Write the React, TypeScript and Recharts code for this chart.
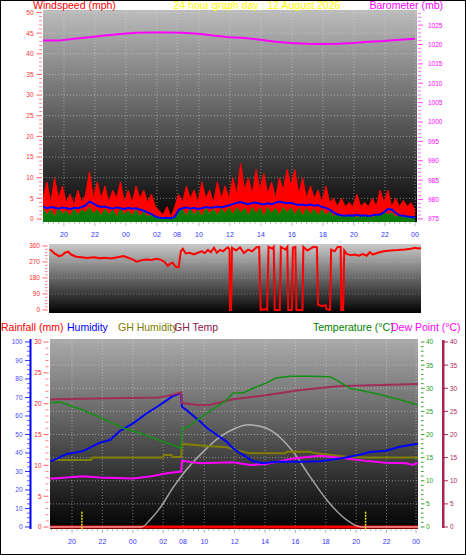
import React from "react";
import { ComposedChart, Line, Area, XAxis, YAxis, CartesianGrid, ReferenceLine } from "recharts";

const FONT = "'Liberation Sans', Arial, Helvetica, sans-serif";

// time axis: hours with the overnight outage squeezed, so the labels are not evenly spaced
const hourTicks = [1.35, 3.35, 5.35, 7.35, 8.65, 10.06, 12.06, 14.06, 16.06, 18.06, 20.06, 22.06, 24.0];
const hourLabels = ["20", "22", "00", "02", "08", "10", "12", "14", "16", "18", "20", "22", "00"];
const X_MAX = 24.13;

// windspeed (mph), one reading every quarter hour
const WIND_STEP = 0.25;
const gust = [
  5, 9, 4, 10, 5, 8, 4, 6, 3.5, 7, 4, 6, 11.5, 5, 9, 5, 8, 4, 7, 5, 9, 4, 7, 4, 8, 5, 7, 4, 6, 3, 2, 1, 3, 0.5, 3,
  6, 4, 8, 5, 7, 4, 9, 5, 7, 4, 9, 5, 8, 5, 10, 6, 13.5, 7, 10, 6, 12, 7, 11, 6, 9, 5, 10, 7, 12, 8, 12, 6, 10, 5,
  8, 5, 7, 4, 8, 4, 5, 3, 5, 3, 4, 3, 6, 3, 4, 3, 5, 3, 7, 4, 7, 3, 5, 3, 4.5, 3, 4, 2,
];
const avgSpeed = [
  3, 2.6, 2.9, 2.7, 2.5, 2.8, 2.6, 2.4, 2.7, 2.6, 2.9, 3.3, 4.2, 3.8, 3.2, 2.9, 3.0, 2.7, 2.5, 2.8, 2.6, 2.4, 2.7,
  2.5, 2.6, 2.3, 2.0, 1.6, 1.2, 0.6, 0.3, 0.2, 0.3, 0.2, 0.5, 2.2, 2.6, 2.8, 2.5, 2.7, 2.4, 2.6, 2.9, 2.7, 2.8, 3.0,
  2.8, 3.1, 3.3, 3.6, 3.9, 4.1, 3.8, 3.6, 3.9, 4.0, 3.7, 3.5, 3.8, 3.6, 3.9, 4.2, 4.0, 3.8, 3.9, 3.6, 3.4, 3.5, 3.3,
  3.5, 3.2, 3.4, 2.9, 2.7, 2.2, 1.6, 1.1, 0.9, 0.8, 0.9, 0.8, 1.0, 0.8, 0.9, 0.7, 0.9, 1.0, 1.1, 1.6, 2.4, 2.3, 1.5,
  0.9, 0.8, 0.6, 0.5, 0.4,
];
const windSpeed = [
  2.5, 1, 2.2, 0.5, 2.6, 1.2, 2.0, 0.6, 2.4, 1.0, 2.2, 1.5, 2.8, 1.2, 2.3, 0.8, 2.4, 1.0, 2.2, 0.5, 2.5, 1.1, 2.0,
  0.8, 2.2, 0.6, 1.8, 0.5, 1.0, 0.2, 0.1, 0, 0.2, 0, 0.3, 1.8, 2.3, 0.8, 2.5, 1.0, 2.2, 0.6, 2.6, 1.2, 2.4, 0.9, 2.5,
  1.3, 2.7, 1.0, 2.8, 1.4, 2.6, 0.8, 2.8, 1.2, 2.7, 0.6, 2.8, 1.3, 2.6, 0.9, 2.8, 1.5, 2.7, 1.0, 2.6, 0.7, 2.5, 1.1,
  2.4, 0.8, 2.3, 0.9, 1.8, 0.6, 1.2, 0.4, 1.0, 0.5, 0.9, 0.3, 1.0, 0.5, 0.8, 0.3, 1.1, 0.6, 1.8, 1.0, 1.5, 0.5, 0.8,
  0.3, 0.6, 0.2, 0.3,
];

// barometer (mb), hourly
const baro = [
  1021.0, 1021.0, 1021.5, 1021.9, 1022.3, 1022.7, 1023.0, 1023.1, 1023.1, 1023.0, 1022.8, 1022.3, 1021.9, 1021.7,
  1021.2, 1020.7, 1020.4, 1020.2, 1020.1, 1020.2, 1020.4, 1020.7, 1020.9, 1021.2, 1021.5,
];

// wind direction (degrees)
const dirHours = [
  0.07, 0.33, 0.65, 0.85, 1.04, 1.24, 1.44, 1.76, 2.09, 2.48, 2.94, 3.26, 3.65, 4.04, 4.44, 4.83, 5.09, 5.41, 5.68,
  6.0, 6.33, 6.65, 6.98, 7.24, 7.5, 7.7, 7.89, 8.02, 8.22, 8.41, 8.55, 8.68, 8.87, 9.13, 9.39, 9.65, 9.92, 10.11,
  10.31, 10.5, 10.7, 10.89, 11.09, 11.29, 11.48, 11.61, 11.71, 11.74, 11.81, 11.87, 12.13, 12.39, 12.65, 12.92,
  13.18, 13.44, 13.63, 13.73, 14.02, 14.15, 14.24, 14.48, 14.58, 14.64, 14.97, 15.04, 15.33, 15.46, 15.52, 15.75,
  15.82, 15.98, 16.05, 16.44, 16.5, 16.76, 16.96, 17.16, 17.38, 17.45, 17.74, 17.94, 18.0, 18.23, 18.3, 18.53,
  18.72, 18.92, 18.96, 19.08, 19.15, 19.31, 19.57, 19.83, 20.09, 20.35, 20.61, 20.81, 21.0, 21.33, 21.72, 22.18,
  22.64, 23.09, 23.48, 23.74, 23.94, 24.13,
];
const dirDeg = [
  341, 320, 303, 308, 322, 328, 312, 300, 297, 293, 296, 291, 294, 290, 297, 303, 295, 285, 272, 280, 284, 281,
  288, 283, 270, 248, 262, 266, 243, 240, 330, 345, 318, 322, 312, 322, 330, 320, 338, 325, 350, 322, 338, 330,
  345, 352, 340, 0, 0, 350, 335, 352, 320, 340, 330, 352, 355, 0, 5, 0, 355, 345, 355, 0, 0, 355, 340, 355, 0, 0,
  350, 355, 0, 0, 355, 335, 345, 355, 352, 30, 22, 28, 5, 0, 340, 330, 355, 355, 0, 0, 335, 315, 308, 312, 305,
  315, 305, 325, 312, 322, 330, 335, 337, 340, 345, 350, 346, 348,
];
const compass: Record<number, string> = { 360: "S", 270: "E", 180: "N", 90: "W", 0: "S" };

// lower panel
const humHours = [
  -0.1, 0.1, 1.02, 2.07, 3.19, 3.85, 4.51, 5.37, 6.29, 6.95, 7.6, 8.0, 8.53, 8.59, 8.92, 9.78, 10.24, 10.9, 11.55,
  11.95, 12.61, 13.27, 13.92, 14.78, 16.36, 17.68, 19.19, 20.31, 20.97, 22.02, 22.94, 24.0, 24.13,
];
const humidity = [
  36, 36, 39.5, 41, 45.6, 47, 52, 56, 61.6, 65, 68.6, 70.8, 72.4, 65, 63, 57, 53.5, 49.7, 46, 42.5, 39, 35.5, 34.5,
  35.3, 35.3, 35.5, 37.3, 39, 40.5, 41.2, 43.4, 44.9, 45,
];
const ghHumHours = [
  -0.1, 0.1, 2.6, 2.7, 7.3, 7.4, 7.9, 8.0, 8.53, 8.59, 10.24, 11.55, 11.95, 13.07, 15.4, 15.5, 17.0, 17.4, 19.4,
  20.7, 24.0, 24.13,
];
const ghHumidity = [
  36.2, 36.2, 36.2, 37.5, 37.5, 38.9, 38.9, 37.8, 37.8, 44.9, 43.8, 43.1, 42.0, 39.8, 39.8, 40.7, 40.7, 39.8, 38.0,
  37.5, 37.5, 37.5,
];
const tempHours = [
  -0.1, 0.1, 0.56, 2.07, 3.19, 4.71, 6.02, 7.14, 8.0, 8.53, 8.59, 8.92, 9.58, 10.24, 11.55, 11.95, 12.61, 13.27,
  14.12, 14.78, 15.7, 17.02, 18.33, 18.73, 19.65, 20.7, 21.82, 22.94, 24.0, 24.13,
];
const temperature = [
  26.9, 26.9, 27.0, 25.3, 23.7, 21.4, 20.1, 18.7, 17.7, 17.0, 21.3, 21.5, 23.1, 24.6, 27.5, 29.0, 29.0, 30.0, 31.1,
  32.2, 32.6, 32.6, 32.5, 31.8, 30.0, 29.3, 28.5, 27.5, 26.5, 26.4,
];
const ghTempHours = [
  -0.1, 0.1, 3.0, 5.0, 7.0, 7.6, 8.2, 8.53, 8.59, 9.6, 10.4, 11.55, 11.95, 14.12, 16.36, 18.54, 19.19, 21.82, 24.0,
  24.13,
];
const ghTemp = [
  27.6, 27.6, 27.8, 27.9, 28.0, 28.3, 28.8, 29.1, 26.8, 26.4, 26.4, 27.3, 27.6, 28.5, 29.6, 30.3, 30.5, 30.7, 30.9,
  30.9,
];
const dewHours = [
  -0.1, 0.1, 2.07, 3.19, 5.37, 6.48, 7.6, 8.53, 8.59, 9.78, 11.95, 13.07, 14.12, 15.9, 17.68, 19.0, 20.7, 22.02,
  23.34, 23.8, 24.0, 24.13,
];
const dewPoint = [
  10.5, 10.5, 11.0, 10.7, 10.5, 10.9, 11.6, 12.0, 14.3, 13.8, 14.0, 13.4, 13.6, 14.8, 15.4, 15.0, 14.3, 13.9, 13.8,
  13.4, 13.8, 13.8,
];
const solarHours = [
  -0.1, 5.94, 6.5, 7.14, 8.0, 8.59, 9.78, 11.09, 12.08, 12.94, 13.73, 14.38, 15.9, 17.02, 18.14, 19.45, 20.38, 24.13,
];
const solar = [0, 0, 1.6, 4.1, 8.5, 11.2, 15.6, 19.5, 21.3, 22.1, 21.8, 21.0, 16.3, 10.9, 5.8, 1.5, 0, 0];
const rainHours = [-0.1, 24.13];
const rainfall = [0, 0];
const sunMarks = [2.0, 20.68];

const range = (from: number, to: number, step: number) =>
  Array.from({ length: Math.round((to - from) / step) + 1 }, (_, i) => from + i * step);
const pts = (ts: number[], vs: number[]) => ts.map((t, i) => ({ t, v: vs[i] }));

const minorHours = range(1.35 - 4 / 3, 1.35 + 68 / 3, 1 / 3).filter(
  (v) => v >= 0 && v <= X_MAX && hourTicks.every((h) => Math.abs(h - v) > 0.12)
);
const xTickValues = [...hourTicks, ...minorHours].sort((a, b) => a - b);

// labelY / top are in the chart's own svg coordinates
const makeXTick = (labelY: number, top: number) => (p: any) => {
  const v = Number(p.payload.value);
  const idx = hourTicks.findIndex((h) => Math.abs(h - v) < 0.001);
  if (idx < 0) return <line x1={p.x} x2={p.x} y1={top} y2={top + 2} stroke="#b8b8b8" />;
  return (
    <g>
      <line x1={p.x} x2={p.x} y1={top} y2={top + 4} stroke="#b8b8b8" />
      <text x={p.x} y={labelY} textAnchor="middle" fontSize={7} fill="#3333ff" fontFamily={FONT}>
        {hourLabels[idx]}
      </text>
    </g>
  );
};

type AxisStyle = {
  step: number;
  labelX: number;
  anchor: "start" | "end";
  color: string;
  tick: string;
  major: [number, number];
  minor: [number, number];
};

const makeYTick = (a: AxisStyle) => (p: any) => {
  const v = Number(p.payload.value);
  const isMajor = Math.abs(v / a.step - Math.round(v / a.step)) < 1e-6;
  const [x1, x2] = isMajor ? a.major : a.minor;
  return (
    <g>
      <line x1={x1} x2={x2} y1={p.y} y2={p.y} stroke={a.tick} strokeOpacity={isMajor ? 1 : 0.75} />
      {isMajor && (
        <text x={a.labelX} y={p.y + 2.4} textAnchor={a.anchor} fontSize={6.5} fill={a.color} fontFamily={FONT}>
          {v}
        </text>
      )}
    </g>
  );
};

const TempTick = (p: any) => {
  const v = Number(p.payload.value);
  const isMajor = v % 5 === 0;
  return (
    <g>
      <line x1={421} x2={isMajor ? 424.5 : 423.5} y1={p.y} y2={p.y} stroke="#30a030" />
      {isMajor && (
        <g fontSize={6.5} fontFamily={FONT}>
          <text x={426} y={p.y + 2.4} fill="#20a020">{v}</text>
          <line x1={444} x2={448} y1={p.y} y2={p.y} stroke="#b02858" />
          <text x={450} y={p.y + 2.4} fill="#b02858">{v}</text>
        </g>
      )}
    </g>
  );
};

const CompassTick = (p: any) => (
  <text x={438} y={p.y + 3} textAnchor="middle" fontSize={11} fill="#ff0000" fontFamily={FONT}>
    {compass[Number(p.payload.value)]}
  </text>
);

const bg = (id: string, top: string) => (
  <defs>
    <linearGradient id={id} x1="0" y1="0" x2="0" y2="1">
      <stop offset="0%" stopColor={top} />
      <stop offset="100%" stopColor="#020202" />
    </linearGradient>
  </defs>
);

function WindPanel() {
  const windData = gust.map((g, i) => ({ t: i * WIND_STEP, gust: g, avg: avgSpeed[i], speed: windSpeed[i] }));
  const baroData = baro.map((v, i) => ({ t: i, v }));
  return (
    <ComposedChart width={466} height={242} margin={{ top: 10, right: 0, bottom: 0, left: 0 }}>
      {bg("bgWind", "#bcbcbc")}
      <CartesianGrid
        yAxisId="mph"
        fill="url(#bgWind)"
        fillOpacity={1}
        stroke="#e0e0e0"
        strokeOpacity={0.5}
        strokeDasharray="1 2"
        horizontalValues={range(5, 50, 5)}
        verticalValues={hourTicks}
      />
      <XAxis
        dataKey="t"
        type="number"
        domain={[0, X_MAX]}
        ticks={xTickValues}
        interval={0}
        height={20}
        axisLine={false}
        tickLine={false}
        tick={makeXTick(237, 222)}
        allowDataOverflow
      />
      <YAxis
        yAxisId="mph"
        width={43}
        type="number"
        domain={[-0.73, 50.6]}
        ticks={range(0, 50, 1)}
        interval={0}
        axisLine={false}
        tickLine={false}
        allowDataOverflow
        tick={makeYTick({ step: 5, labelX: 33.5, anchor: "end", color: "#ff3030", tick: "#ff6060", major: [36.5, 42], minor: [39, 42] })}
      />
      <YAxis
        yAxisId="mb"
        orientation="right"
        width={49}
        type="number"
        domain={[974.2, 1028.9]}
        ticks={range(975, 1028, 1)}
        interval={0}
        axisLine={false}
        tickLine={false}
        allowDataOverflow
        tick={makeYTick({ step: 5, labelX: 428, anchor: "start", color: "#ff00ff", tick: "#ff40ff", major: [418, 423], minor: [418, 421] })}
      />
      <Area yAxisId="mph" data={windData} dataKey="gust" type="linear" stroke="#ff0000" strokeWidth={1} fill="#ff0000" fillOpacity={1} baseValue="dataMin" dot={false} activeDot={false} isAnimationActive={false} />
      <Area yAxisId="mph" data={windData} dataKey="speed" type="linear" stroke="#0c8a0c" strokeWidth={1} fill="#0a7a0a" fillOpacity={1} baseValue="dataMin" dot={false} activeDot={false} isAnimationActive={false} />
      <Line yAxisId="mph" data={windData} dataKey="avg" type="linear" stroke="#0000ff" strokeWidth={2} dot={false} activeDot={false} isAnimationActive={false} />
      <Line yAxisId="mb" data={baroData} dataKey="v" type="linear" stroke="#ff00ff" strokeWidth={2} dot={false} activeDot={false} isAnimationActive={false} />
    </ComposedChart>
  );
}

function DirectionPanel() {
  return (
    <ComposedChart width={466} height={76} margin={{ top: 4, right: 0, bottom: 3, left: 0 }}>
      {bg("bgDir", "#cacaca")}
      <CartesianGrid yAxisId="deg" fill="url(#bgDir)" fillOpacity={1} stroke="#e0e0e0" strokeOpacity={0.35} strokeDasharray="1 2" vertical={false} horizontalValues={[90, 180, 270]} />
      <XAxis dataKey="t" type="number" domain={[0, X_MAX]} hide allowDataOverflow />
      <YAxis
        yAxisId="deg"
        width={49}
        type="number"
        domain={[-16.9, 371.2]}
        ticks={range(0, 360, 18)}
        interval={0}
        axisLine={false}
        tickLine={false}
        allowDataOverflow
        tick={makeYTick({ step: 90, labelX: 40, anchor: "end", color: "#ff3030", tick: "#ff6060", major: [42.5, 47.5], minor: [45, 47.5] })}
      />
      <YAxis yAxisId="cmp" orientation="right" width={45} type="number" domain={[-16.9, 371.2]} ticks={[0, 90, 180, 270, 360]} interval={0} axisLine={false} tickLine={false} tick={CompassTick} />
      <Line yAxisId="deg" data={pts(dirHours, dirDeg)} dataKey="v" type="linear" stroke="#ff0000" strokeWidth={2} dot={false} activeDot={false} isAnimationActive={false} />
    </ComposedChart>
  );
}

function ClimatePanel() {
  return (
    <ComposedChart width={466} height={239} margin={{ top: 23, right: 0, bottom: 0, left: 0 }}>
      {bg("bgClim", "#aaaaaa")}
      <CartesianGrid
        yAxisId="temp"
        fill="url(#bgClim)"
        fillOpacity={1}
        stroke="#e0e0e0"
        strokeOpacity={0.5}
        strokeDasharray="1 2"
        horizontalValues={range(5, 40, 5)}
        verticalValues={hourTicks}
      />
      <XAxis
        dataKey="t"
        type="number"
        domain={[-0.1, X_MAX]}
        ticks={xTickValues}
        interval={0}
        height={26}
        axisLine={false}
        tickLine={false}
        tick={makeXTick(228, 213)}
        allowDataOverflow
      />
      <YAxis
        yAxisId="hum"
        width={32}
        type="number"
        domain={[-1.08, 101.6]}
        ticks={range(0, 100, 2.5)}
        interval={0}
        axisLine={false}
        tickLine={false}
        allowDataOverflow
        tick={makeYTick({ step: 10, labelX: 22.5, anchor: "end", color: "#4848ff", tick: "#3030ff", major: [25, 30], minor: [27, 30] })}
      />
      <YAxis
        yAxisId="rain"
        width={18}
        type="number"
        domain={[-0.32, 30.49]}
        ticks={range(0, 30, 1)}
        interval={0}
        axisLine={false}
        tickLine={false}
        allowDataOverflow
        tick={makeYTick({ step: 5, labelX: 41.5, anchor: "end", color: "#ff2020", tick: "#ff6060", major: [43.5, 48.5], minor: [45.5, 48.5] })}
      />
      <YAxis
        yAxisId="temp"
        orientation="right"
        width={48}
        type="number"
        domain={[-0.43, 40.65]}
        ticks={range(0, 40, 1)}
        interval={0}
        axisLine={false}
        tickLine={false}
        allowDataOverflow
        tick={TempTick}
      />
      <Line yAxisId="rain" data={pts(rainHours, rainfall)} dataKey="v" type="linear" stroke="#ff0000" strokeWidth={3} dot={false} activeDot={false} isAnimationActive={false} />
      <Line yAxisId="temp" data={pts(solarHours, solar)} dataKey="v" type="monotone" stroke="#d6d6d6" strokeOpacity={0.7} strokeWidth={1.5} dot={false} activeDot={false} isAnimationActive={false} />
      <Line yAxisId="hum" data={pts(ghHumHours, ghHumidity)} dataKey="v" type="linear" stroke="#808000" strokeWidth={2} dot={false} activeDot={false} isAnimationActive={false} />
      <Line yAxisId="temp" data={pts(dewHours, dewPoint)} dataKey="v" type="linear" stroke="#ff00ff" strokeWidth={2} dot={false} activeDot={false} isAnimationActive={false} />
      <Line yAxisId="hum" data={pts(humHours, humidity)} dataKey="v" type="linear" stroke="#0000ff" strokeWidth={2} dot={false} activeDot={false} isAnimationActive={false} />
      <Line yAxisId="temp" data={pts(ghTempHours, ghTemp)} dataKey="v" type="linear" stroke="#a02c58" strokeWidth={2} dot={false} activeDot={false} isAnimationActive={false} />
      <Line yAxisId="temp" data={pts(tempHours, temperature)} dataKey="v" type="linear" stroke="#139013" strokeWidth={1.5} dot={false} activeDot={false} isAnimationActive={false} />
      {sunMarks.map((h) => (
        <ReferenceLine
          key={h}
          yAxisId="temp"
          segment={[{ x: h, y: -0.4 }, { x: h, y: 3.5 }]}
          stroke="#e8e800"
          strokeWidth={1.5}
          strokeDasharray="2 1"
        />
      ))}
    </ComposedChart>
  );
}

export default function App() {
  return (
    <div style={{ position: "absolute", left: 0, top: 0, width: 466, height: 555, background: "#fff", overflow: "hidden" }}>
      <div style={{ position: "absolute", left: 0, top: 0 }}>
        <WindPanel />
      </div>
      <div style={{ position: "absolute", left: 0, top: 240 }}>
        <DirectionPanel />
      </div>
      <div style={{ position: "absolute", left: 0, top: 316 }}>
        <ClimatePanel />
      </div>
      <svg width={466} height={555} style={{ position: "absolute", left: 0, top: 0, pointerEvents: "none" }} fontFamily={FONT} fontSize={10.5}>
        <rect x={0.5} y={0.5} width={465} height={554} fill="none" stroke="#000" />
        <text x={33} y={9} fill="#ff0000">Windspeed (mph)</text>
        <text x={257} y={9} fill="#ffff00" textAnchor="middle">24 hour graph day : 12 August 2026</text>
        <text x={443} y={9} fill="#ff00ff" textAnchor="end">Barometer (mb)</text>
        <text x={1} y={331} fill="#ff0000">Rainfall (mm)</text>
        <text x={67} y={331} fill="#0000ff">Humidity</text>
        <text x={118} y={331} fill="#808000">GH Humidity</text>
        <text x={174} y={331} fill="#8b1a4a">GH Temp</text>
        <text x={313} y={331} fill="#008000">Temperature (°C)</text>
        <text x={391} y={331} fill="#ff00ff">Dew Point (°C)</text>
        <rect x={29.5} y={339} width={2} height={190} fill="#0000ff" />
        <rect x={442} y={340} width={2.5} height={188} fill="#a82454" />
      </svg>
    </div>
  );
}
